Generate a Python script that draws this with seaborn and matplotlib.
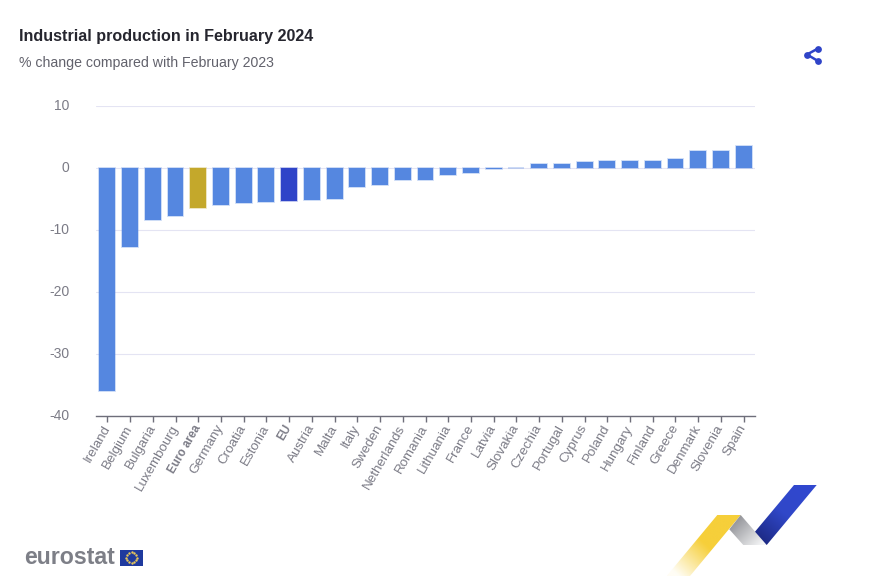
import numpy as np
import pandas as pd
import matplotlib
matplotlib.use("Agg")
import matplotlib.pyplot as plt
from matplotlib.colors import LinearSegmentedColormap, to_rgba
from matplotlib.patches import Polygon, Rectangle
from matplotlib.transforms import ScaledTranslation
import seaborn as sns

countries = ["Ireland", "Belgium", "Bulgaria", "Luxembourg", "Euro area", "Germany", "Croatia",
             "Estonia", "EU", "Austria", "Malta", "Italy", "Sweden", "Netherlands", "Romania",
             "Lithuania", "France", "Latvia", "Slovakia", "Czechia", "Portugal", "Cyprus",
             "Poland", "Hungary", "Finland", "Greece", "Denmark", "Slovenia", "Spain"]
values = [-36.0, -12.7, -8.4, -7.8, -6.4, -6.0, -5.6, -5.5, -5.4, -5.2, -5.0, -3.1, -2.7, -2.0,
          -2.0, -1.2, -0.8, -0.2, 0.0, 0.7, 0.7, 1.0, 1.2, 1.2, 1.2, 1.5, 2.7, 2.8, 3.5]
y_ticks = [10, 0, -10, -20, -30, -40]
title = "Industrial production in February 2024"
subtitle = "% change compared with February 2023"

sns.set_theme(style="white")
plt.rcParams["font.family"] = ["Liberation Sans", "DejaVu Sans"]
plt.rcParams["axes.unicode_minus"] = False

W, H = 882, 578
fig = plt.figure(figsize=(W / 100, H / 100), dpi=100, facecolor="white")
ax = fig.add_axes([96 / W, 1 - 416 / H, (755 - 96) / W, (416 - 106) / H])

BLUE, GOLD, DARK = "#5587e0", "#c4a82b", "#2f44c8"
groups = ["Euro area" if c == "Euro area" else "EU" if c == "EU" else "Country" for c in countries]
df = pd.DataFrame({"country": countries, "value": values, "group": groups})
sns.barplot(data=df, x="country", y="value", hue="group", dodge=False, legend=False, width=0.7,
            palette={"Country": BLUE, "Euro area": GOLD, "EU": DARK}, saturation=1, ax=ax, zorder=3)
for p in ax.patches:
    p.set_edgecolor(to_rgba(p.get_facecolor(), 0.35))
    p.set_linewidth(1.2)

ax.set_xlim(-0.5, len(countries) - 0.5)
ax.set_ylim(-40, 10)
ax.set_yticks(y_ticks)
ax.set_xlabel("")
ax.set_ylabel("")
ax.grid(axis="y", color="#e4e4f3", lw=0.8, zorder=0)
ax.grid(axis="x", visible=False)
for s in ["top", "left", "right"]:
    ax.spines[s].set_visible(False)
ax.spines["bottom"].set_color("#6e6e7a")
ax.spines["bottom"].set_linewidth(1)
ax.tick_params(axis="y", length=0, pad=19, labelsize=10, labelcolor="#7b7b86")
ax.tick_params(axis="x", length=4, width=1, color="#6e6e7a", pad=3, bottom=True)
ax.set_xticks(range(len(countries)))
ax.set_xticklabels(countries, rotation=60, ha="right", va="center", rotation_mode="anchor",
                   fontsize=9.6, color="#7b7b86")
for lab in ax.get_xticklabels():
    if lab.get_text() in ("Euro area", "EU"):
        lab.set_fontweight("bold")
        lab.set_fontsize(8.4)
up = ScaledTranslation(0, 1.5 / 100, fig.dpi_scale_trans)
for lab in ax.get_yticklabels():
    lab.set_transform(lab.get_transform() + up)

# Decoration layer in pixel coordinates
ov = fig.add_axes([0, 0, 1, 1], zorder=5)
ov.set_xlim(0, W)
ov.set_ylim(H, 0)
ov.axis("off")
ov.patch.set_alpha(0)

ov.text(19, 37, title, fontsize=11.65, fontweight="bold", color="#26262f", va="center", ha="left")
ov.text(19, 63, subtitle, fontsize=10.2, color="#62626c", va="center", ha="left")

# share icon
share = [(818, 48.5), (807, 54.5), (818, 61)]
ov.plot(*zip(*share), color="#2f44c8", lw=1.8, solid_capstyle="round")
ov.scatter(*zip(*share), s=24, color="#2f44c8", linewidths=0)


def ribbon(points, colors, angle_from, angle_to):
    poly = Polygon(points, closed=True, transform=ov.transData, fc="none", ec="none")
    ov.add_patch(poly)
    xs, ys = zip(*points)
    ext = (min(xs), max(xs), max(ys), min(ys))
    n = 120
    gx, gy = np.meshgrid(np.linspace(ext[0], ext[1], n), np.linspace(ext[3], ext[2], n))
    d = np.array(angle_to) - np.array(angle_from)
    t = ((gx - angle_from[0]) * d[0] + (gy - angle_from[1]) * d[1]) / (d @ d)
    cmap = LinearSegmentedColormap.from_list("r", colors)
    im = ov.imshow(np.clip(t, 0, 1), extent=ext, cmap=cmap, vmin=0, vmax=1, origin="upper",
                   aspect="auto", interpolation="bilinear")
    im.set_clip_path(poly)


ribbon([(717.3, 515), (740.7, 515), (690, 576), (666.7, 576)],
       ["#f6cf3a", "#f6cf3a", "#fffdf5"], (735, 515), (678, 576))
ribbon([(740.7, 515), (766.7, 545), (743.3, 545), (729.3, 529.3)],
       ["#8f9095", "#f4f5f6"], (733, 520), (760, 546))
ribbon([(794, 485), (816.7, 485), (766.7, 545), (755, 531.7)],
       ["#3148cf", "#3047c8", "#1d2a85"], (805, 485), (760, 540))

# Eurostat logo
ov.text(24.5, 558, "eurostat", fontsize=16.7, fontweight="bold", color="#7d7f87", va="center", ha="left")
ov.add_patch(Rectangle((120, 549.5), 23, 16, fc="#1f3a9e", ec="none"))
angles = np.linspace(0, 2 * np.pi, 12, endpoint=False)
ov.scatter(131.5 + 5.2 * np.cos(angles), 557.5 + 5.2 * np.sin(angles), s=3, color="#e8c85a", linewidths=0)
ov.set_xlim(0, W)
ov.set_ylim(H, 0)

fig.savefig("out.png", dpi=100, facecolor="white")
